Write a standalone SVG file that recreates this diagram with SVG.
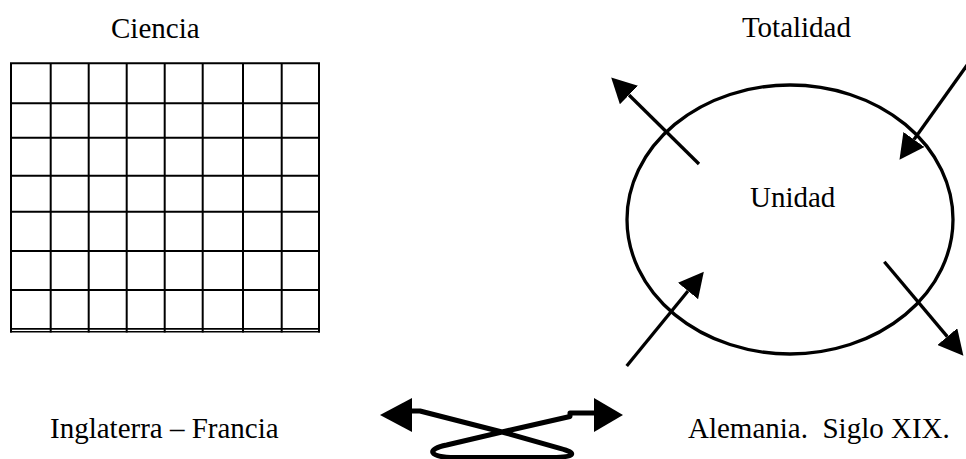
<svg xmlns="http://www.w3.org/2000/svg" width="966" height="459" viewBox="0 0 966 459">
<style>
  .t { font-family: "Liberation Serif", "Times New Roman", serif; font-size: 29px; fill: #000; }
  .grid line { stroke: #000; stroke-width: 2; }
  .ell { fill: none; stroke: #000; stroke-width: 3.3; }
  .arr { fill: none; stroke: #000; stroke-width: 3.3; marker-end: url(#ah); }
  .loop { fill: none; stroke: #000; stroke-width: 5; stroke-linejoin: round; stroke-linecap: round; }
  .head { fill: #000; }
</style>
<defs>
  <marker id="ah" markerUnits="userSpaceOnUse" markerWidth="26" markerHeight="26" refX="0" refY="13" orient="auto" viewBox="0 0 26 26">
    <path d="M0,0 L25,13 L0,26 z" fill="#000"/>
  </marker>
</defs>
<rect width="966" height="459" fill="#fff"/>

<g id="ciencia">
  <text class="t" x="111" y="38">Ciencia</text>
  <g class="grid">
    <line x1="11" y1="63.3" x2="11" y2="332.5"/>
    <line x1="50.7" y1="63.3" x2="50.7" y2="332.5"/>
    <line x1="88.7" y1="63.3" x2="88.7" y2="332.5"/>
    <line x1="126.7" y1="63.3" x2="126.7" y2="332.5"/>
    <line x1="164.7" y1="63.3" x2="164.7" y2="332.5"/>
    <line x1="202.7" y1="63.3" x2="202.7" y2="332.5"/>
    <line x1="243" y1="63.3" x2="243" y2="332.5"/>
    <line x1="281.7" y1="63.3" x2="281.7" y2="332.5"/>
    <line x1="319" y1="63.3" x2="319" y2="332.5"/>
    <line x1="10" y1="63.3" x2="320" y2="63.3"/>
    <line x1="10" y1="103.3" x2="320" y2="103.3"/>
    <line x1="10" y1="137.7" x2="320" y2="137.7"/>
    <line x1="10" y1="175.7" x2="320" y2="175.7"/>
    <line x1="10" y1="211.7" x2="320" y2="211.7"/>
    <line x1="10" y1="251" x2="320" y2="251"/>
    <line x1="10" y1="290" x2="320" y2="290"/>
    <line x1="10" y1="328.9" x2="320" y2="328.9" style="stroke-width:1.6"/>
    <line x1="10" y1="331.7" x2="320" y2="331.7" style="stroke-width:1.6"/>
  </g>
</g>

<g id="totalidad">
  <text class="t" x="851" y="37" text-anchor="end">Totalidad</text>
</g>

<g id="unidad">
  <ellipse class="ell" cx="790" cy="219.5" rx="163" ry="134.5"/>
  <text class="t" x="750" y="207">Unidad</text>
</g>

<g id="inglaterra">
  <text class="t" x="50" y="438">Inglaterra – Francia</text>
</g>

<g id="alemania">
  <text class="t" x="688" y="438" xml:space="preserve">Alemania.  Siglo XIX.</text>
</g>

<g id="connectors">
  <line class="arr" x1="699" y1="164" x2="629" y2="95"/>
  <line class="arr" x1="975" y1="54" x2="914" y2="139.5"/>
  <line class="arr" x1="626.7" y1="366" x2="688" y2="291"/>
  <line class="arr" x1="884.3" y1="261.7" x2="947.3" y2="336.6"/>
  <path class="loop" d="M412,411 L420,411 L502,432 L560,448.3 C578,453 576,457.5 548,457.5 L455,457.5 C428,457.5 426,449 446.7,445 L502,432 L570,416.5 L570,413 L595,413"/>
  <path class="head" d="M380,415 L412,398 L412,432 z"/>
  <path class="head" d="M623,415 L594,398 L594,432 z"/>
</g>
</svg>
